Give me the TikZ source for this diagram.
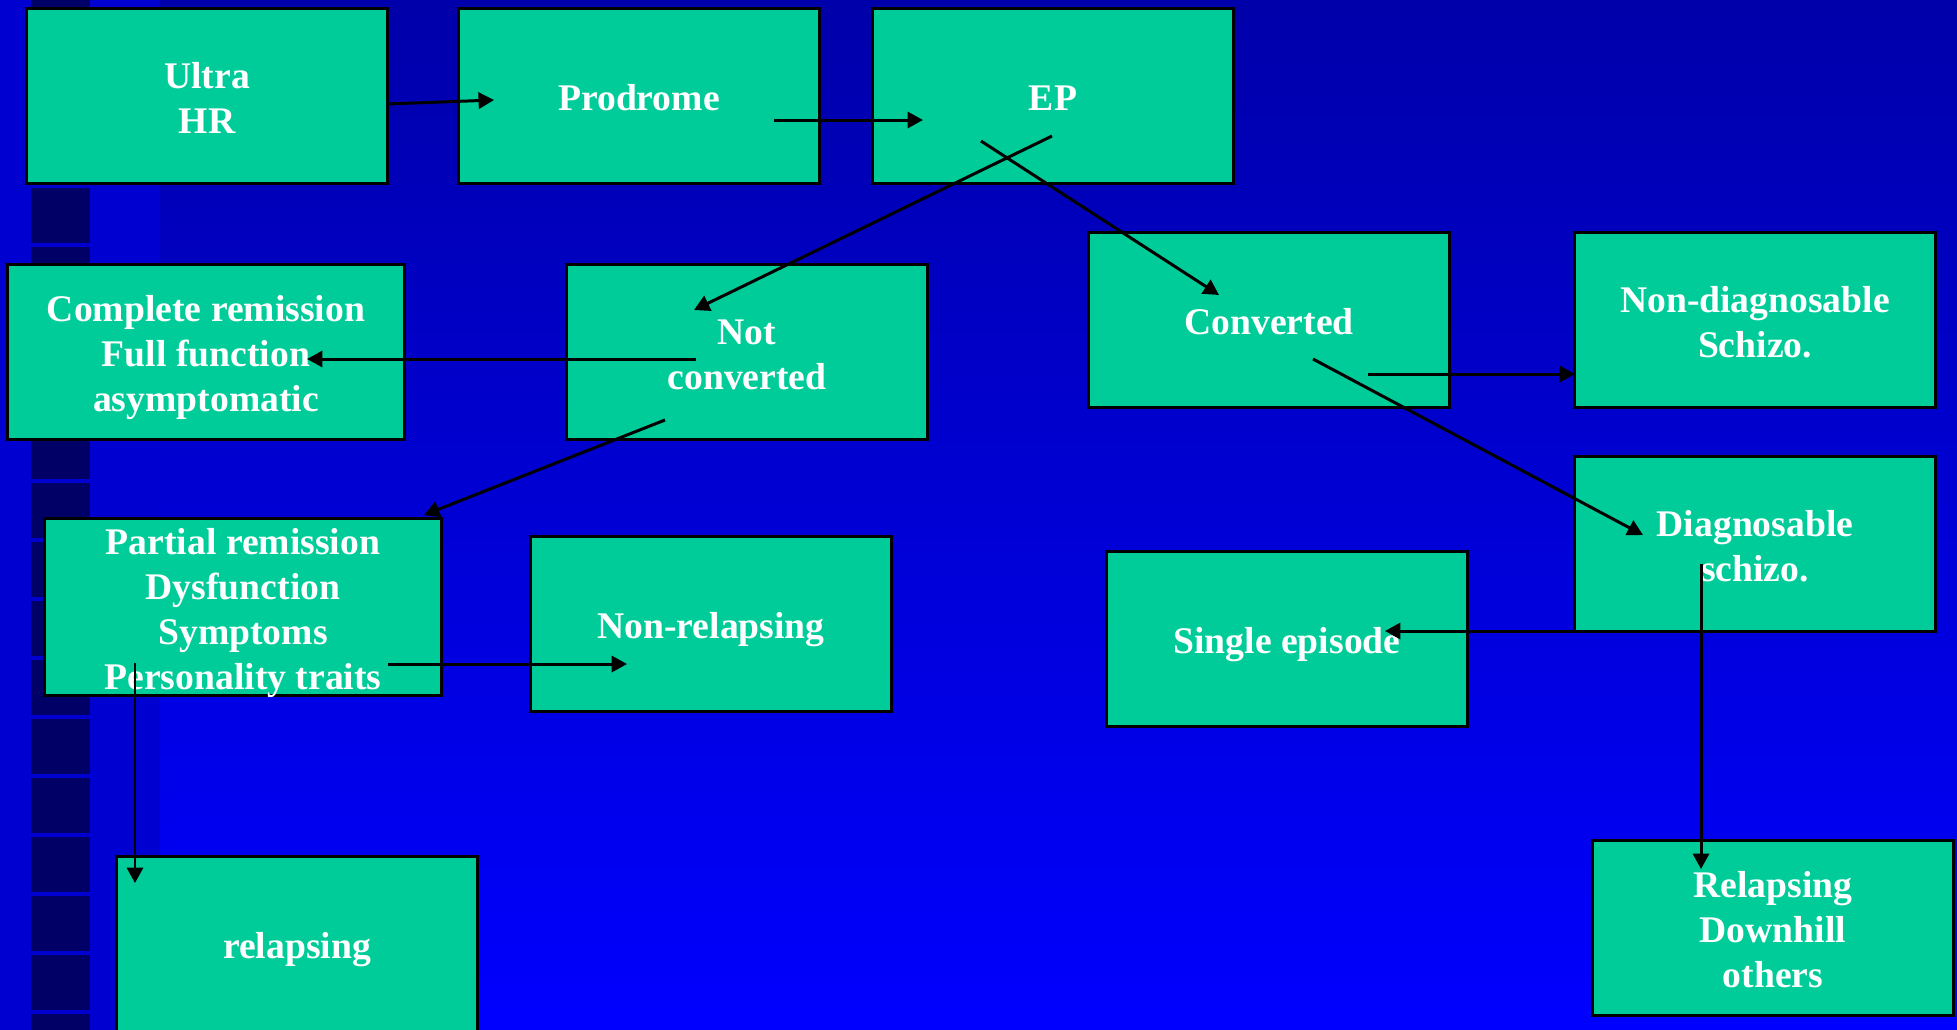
\documentclass[tikz,border=0pt]{standalone}
\usepackage{fontspec}
\setmainfont{Liberation Serif}
\usetikzlibrary{arrows.meta}

\definecolor{boxgreen}{RGB}{0,204,153}
\definecolor{slidetop}{RGB}{0,0,170}
\definecolor{slidebot}{RGB}{0,0,255}
\definecolor{stripe}{RGB}{0,0,208}
\definecolor{navysq}{RGB}{0,0,102}

% struts so that every box text sits like a full line
\newcommand{\boxtop}{\rule{0pt}{10.7pt}}
\newcommand{\boxbot}{\rule[-2.3pt]{0pt}{2.3pt}}

\tikzset{
  box/.style={draw=black, line width=0.85pt, fill=boxgreen, text=white,
    font=\fontsize{10.7}{12.8}\selectfont\bfseries, align=center,
    minimum width=3.6cm, minimum height=1.75cm, inner sep=0pt},
  widebox/.style={box, minimum width=3.96cm},
  arr/.style={-{Triangle[length=4.4pt,width=4.6pt]}, line width=0.85pt},
}

\begin{document}
\begin{tikzpicture}[x=0.01cm,y=-0.01cm]
\useasboundingbox (0,0) rectangle (1957,1029);
% background
\shade[top color=slidetop, bottom color=slidebot] (0,0) rectangle (1957,1029);
\shade[top color=stripe, middle color=slidebot, bottom color=stripe] (0,0) rectangle (160,1029);
\foreach \y in {-48,11,...,1016}
  \fill[navysq] (31,\y) rectangle ++(59,55);

% boxes
\node[box] (ultra) at (207,96) {\boxtop Ultra\\HR\boxbot};
\node[box] (prod) at (639,96) {\boxtop Prodrome\boxbot};
\node[box] (ep) at (1053,96) {\boxtop EP\boxbot};
\node[widebox] (compl) at (206,352) {\boxtop Complete remission\\Full function\\asymptomatic\boxbot};
\node[box] (notconv) at (747,352) {\boxtop Not\\converted\boxbot};
\node[box] (conv) at (1269,320) {\boxtop Converted\boxbot};
\node[box] (nondiag) at (1755,320) {\boxtop Non-diagnosable\\Schizo.\boxbot};
\node[box] (diag) at (1755,544) {\boxtop Diagnosable\\schizo.\boxbot};
\node[widebox, inner ysep=-0.6pt] (partial) at (243,607) {\boxtop Partial remission\\Dysfunction\\Symptoms\\Personality traits\boxbot};
\node[box] (nonrel) at (711,624) {\boxtop Non-relapsing\boxbot};
\node[box] (single) at (1287,639) {\boxtop Single episode\boxbot};
\node[box] (relaps) at (297,944) {\boxtop relapsing\boxbot};
\node[box] (downhill) at (1773,928) {\boxtop Relapsing\\Downhill\\others\boxbot};

% arrow ends
\coordinate (ultra-out) at (387,104);
\coordinate (prod-in) at (494,100);
\coordinate (prod-out) at (774,120);
\coordinate (ep-in) at (923,120);
\coordinate (ep-out1) at (1052,136);
\coordinate (notconv-in) at (694,310);
\coordinate (ep-out2) at (981,141);
\coordinate (conv-in) at (1219,295);
\coordinate (notconv-out1) at (696,359);
\coordinate (compl-in) at (307,359);
\coordinate (notconv-out2) at (665,420);
\coordinate (partial-in) at (424,515);
\coordinate (conv-out1) at (1368,374);
\coordinate (nondiag-in) at (1575,374);
\coordinate (conv-out2) at (1313,359);
\coordinate (diag-in) at (1643,535);
\coordinate (partial-out1) at (388,664);
\coordinate (nonrel-in) at (627,664);
\coordinate (partial-out2) at (135,663);
\coordinate (relaps-in) at (135,883);
\coordinate (diag-out1) at (1596,631);
\coordinate (single-in) at (1385,631);
\coordinate (diag-out2) at (1701,564);
\coordinate (downhill-in) at (1701,869);

% arrows
\draw[arr] (ultra-out) -- (prod-in);
\draw[arr] (prod-out) -- (ep-in);
\draw[arr] (ep-out1) -- (notconv-in);
\draw[arr] (ep-out2) -- (conv-in);
\draw[arr] (notconv-out1) -- (compl-in);
\draw[arr] (notconv-out2) -- (partial-in);
\draw[arr] (conv-out1) -- (nondiag-in);
\draw[arr] (conv-out2) -- (diag-in);
\draw[arr] (partial-out1) -- (nonrel-in);
\draw[arr] (partial-out2) -- (relaps-in);
\draw[arr] (diag-out1) -- (single-in);
\draw[arr] (diag-out2) -- (downhill-in);
\end{tikzpicture}
\end{document}
